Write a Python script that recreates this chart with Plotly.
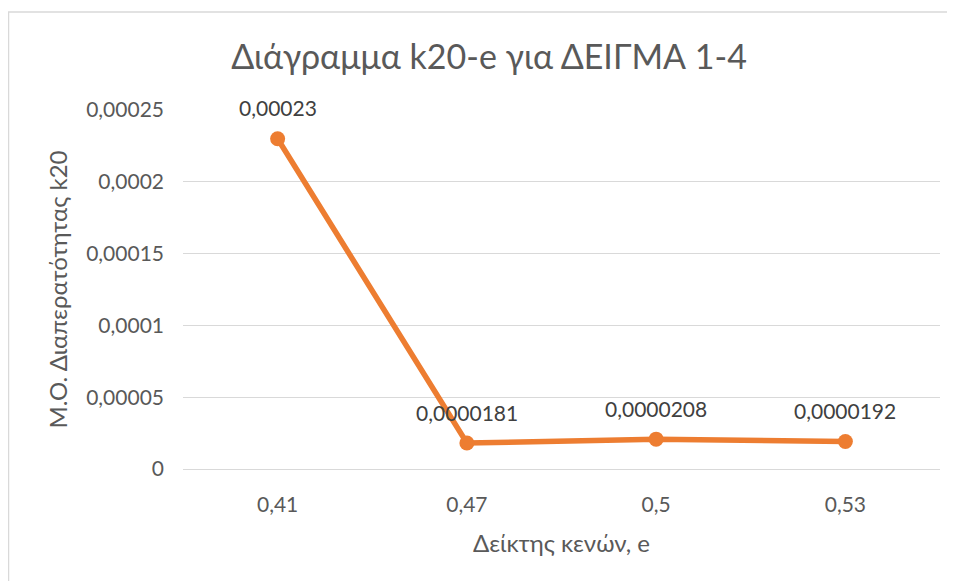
import plotly.graph_objects as go

categories = ["0,41", "0,47", "0,5", "0,53"]
values = [0.00023, 0.0000181, 0.0000208, 0.0000192]
value_labels = ["0,00023", "0,0000181", "0,0000208", "0,0000192"]
y_tickvals = [0, 0.00005, 0.0001, 0.00015, 0.0002, 0.00025]
y_ticktext = ["0", "0,00005", "0,0001", "0,00015", "0,0002", "0,00025"]

FONT = "Lato"
GRAY = "#595959"
ORANGE = "#ED7D31"

OFF = 8  # page body margin
W, H = 955 - OFF, 581 - OFF
L, R, T, B = 183 - OFF, 15, 110 - OFF, 112

fig = go.Figure()
fig.add_trace(go.Scatter(
    x=categories, y=values, mode="lines+markers",
    line=dict(color=ORANGE, width=5.5),
    marker=dict(color=ORANGE, size=15),
    cliponaxis=False, hoverinfo="skip",
))

for c, v, t in zip(categories, values, value_labels):
    fig.add_annotation(x=c, y=v, text=t, showarrow=False, yshift=31,
                       font=dict(family=FONT, size=21, color="#404040"))

pw = W - L - R
ph = H - T - B
fig.add_shape(type="rect", xref="paper", yref="paper",
              x0=(0.5 - L) / pw, x1=(W + 5 - L) / pw,
              y0=-(H + 5 - T - ph) / ph, y1=1 + (T - 4) / ph,
              line=dict(color="#D9D9D9", width=1.5), layer="below")

fig.update_layout(
    width=W, height=H,
    margin=dict(l=L, r=R, t=T, b=B),
    paper_bgcolor="white", plot_bgcolor="white",
    showlegend=False,
    font=dict(family=FONT, color=GRAY),
    title=dict(text="Διάγραμμα k20-e για ΔΕΙΓΜΑ 1-4", x=(489 - OFF) / W, xanchor="center",
               y=1 - (57 - OFF) / H, yanchor="middle",
               font=dict(family=FONT, size=34, color=GRAY)),
    xaxis=dict(type="category", showgrid=False, zeroline=False, showline=False,
               ticks="", tickfont=dict(size=21, color=GRAY),
               ticklabelstandoff=21,
               title=dict(text="Δείκτης κενών, e", font=dict(size=24, color=GRAY), standoff=20),
               range=[-0.5, 3.5]),
    yaxis=dict(range=[0, 0.00025], tickvals=y_tickvals, ticktext=y_ticktext,
               showgrid=True, gridcolor="#D9D9D9", gridwidth=1.3,
               zeroline=True, zerolinecolor="#D9D9D9", zerolinewidth=1.3,
               showline=False, ticks="",
               tickfont=dict(size=21, color=GRAY), ticklabelstandoff=18,
               title=dict(text="Μ.Ο. Διαπερατότητας k20", font=dict(size=24, color=GRAY), standoff=11)),
)

fig.write_html("out.html")
